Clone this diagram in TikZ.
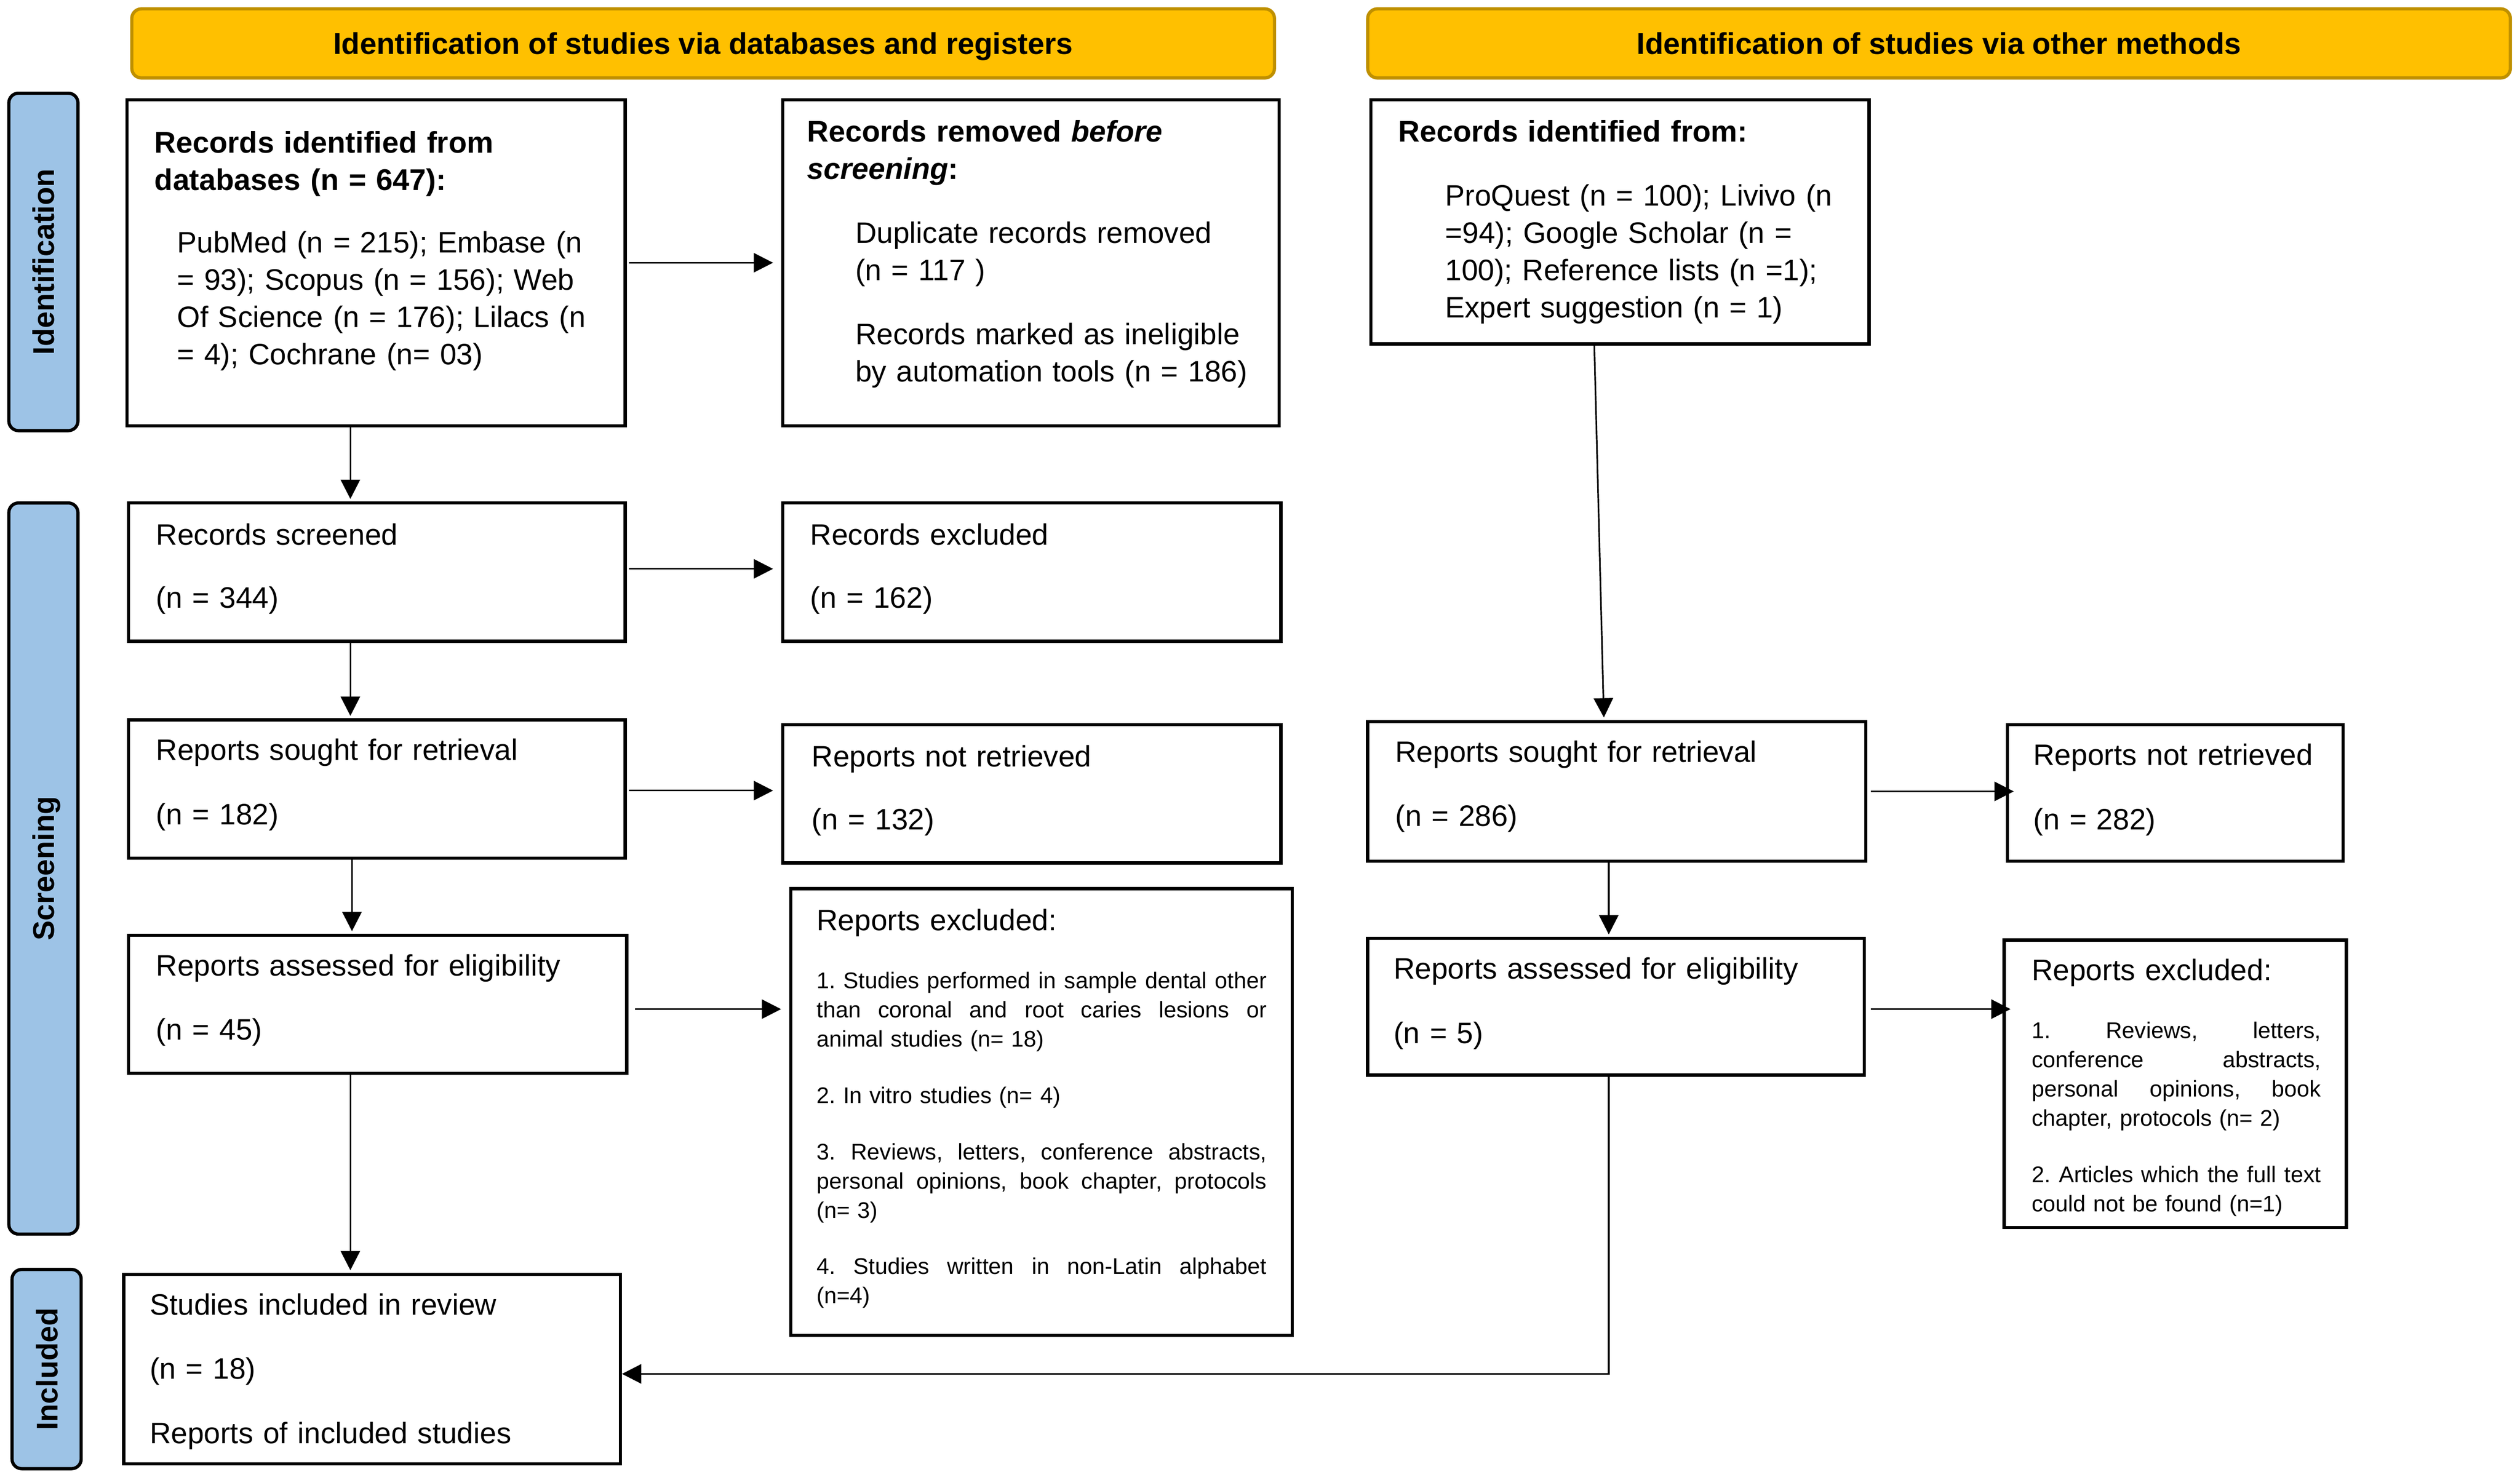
\documentclass[tikz,border=0pt]{standalone}
\usepackage{fontspec}
\setmainfont{Liberation Sans}
\usetikzlibrary{arrows.meta}
\definecolor{hdrfill}{HTML}{FFC000}
\definecolor{hdrline}{HTML}{BF9000}
\definecolor{sidefill}{HTML}{9DC3E6}
\newcommand\jl[2]{\leavevmode\hbox to #1{\spaceskip=0.28em plus 1fil minus 0.1em\relax #2}}
\begin{document}
\frenchspacing
\begin{tikzpicture}[x=1pt,y=-1pt,
  box/.style={draw, line width=2pt, rectangle, inner sep=0pt},
  hdr/.style={draw=hdrline, fill=hdrfill, line width=2pt, rounded corners=6pt, minimum width=711pt, minimum height=43pt, inner sep=0pt, text height=15.6pt, text depth=2pt, font=\fontsize{18.7}{23.2}\selectfont\bfseries},
  side/.style={draw, fill=sidefill, line width=2pt, rounded corners=6pt, rotate=90, minimum height=43pt, inner sep=0pt, text height=15.6pt, text depth=2pt, font=\fontsize{18.6}{23.2}\selectfont\bfseries},
  tx/.style={anchor=north west, inner sep=0pt, align=left, text width=#1, font=\fontsize{18.4}{23.2}\selectfont, execute at begin node={\parindent=0pt\strut}},
  tx/.default=300pt,
  bold/.style={font=\fontsize{18.6}{23.2}\selectfont\bfseries},
  small/.style={font=\fontsize{14.1}{18.2}\selectfont},
  arrbase/.style={line width=1pt, -{Triangle[length=12pt,width=12pt]}},
  harr/.style={arrbase, shorten <=1.5pt, shorten >=5pt},
  varr/.style={arrbase, shorten <=0pt, shorten >=1.5pt}
]
\useasboundingbox (0,0) rectangle (1568,921);

% headers
\node[hdr] (h1) at (437.5,27) {Identification of studies via databases and registers};
\node[hdr] (h2) at (1206.5,27) {Identification of studies via other methods};

% side bars
\node[side, minimum width=210pt] (s1) at (27,163) {Identification};
\node[side, minimum width=455pt] (s2) at (27,540.5) {Screening};
\node[side, minimum width=124pt] (s3) at (29,852) {Included};

% boxes
\node[box, minimum width=310pt, minimum height=203pt] (A) at (234,163.5) {};
\node[box, minimum width=309pt, minimum height=203pt] (B) at (641.5,163.5) {};
\node[box, minimum width=309pt, minimum height=86pt] (C) at (234.5,356) {};
\node[box, minimum width=310pt, minimum height=86pt] (D) at (642,356) {};
\node[box, minimum width=309pt, minimum height=86pt] (E) at (234.5,491) {};
\node[box, minimum width=310pt, minimum height=86pt] (F) at (642,494) {};
\node[box, minimum width=310pt, minimum height=86pt] (G) at (235,625) {};
\node[box, minimum width=312pt, minimum height=278pt] (H) at (648,692) {};
\node[box, minimum width=309pt, minimum height=118pt] (I) at (231.5,852) {};
\node[box, minimum width=310pt, minimum height=152pt] (J) at (1008,138) {};
\node[box, minimum width=310pt, minimum height=87pt] (K) at (1006,492.5) {};
\node[box, minimum width=209pt, minimum height=85pt] (L) at (1353.5,493.5) {};
\node[box, minimum width=309pt, minimum height=85pt] (M) at (1005.5,626.5) {};
\node[box, minimum width=213pt, minimum height=179pt] (N) at (1353.5,674.5) {};

% texts
\node[tx, bold] (At) at (96,78.76) {Records identified from\\databases (n = 647):};
\node[tx] (Ab) at (110,140.76) {PubMed (n = 215); Embase (n\\= 93); Scopus (n = 156); Web\\Of Science (n = 176); Lilacs (n\\= 4); Cochrane (n= 03)};
\node[tx, bold] (Bt) at (502,71.76) {Records removed \textit{before}\\\textit{screening}:};
\node[tx] (Bb) at (532,134.76) {Duplicate records removed\\(n = 117 )\\[16.8pt]Records marked as ineligible\\by automation tools (n = 186)};
\node[tx] (Ct) at (97,322.76) {Records screened\\[15.8pt](n = 344)};
\node[tx] (Dt) at (504,322.76) {Records excluded\\[15.8pt](n = 162)};
\node[tx] (Et) at (97,456.76) {Reports sought for retrieval\\[16.8pt](n = 182)};
\node[tx] (Ft) at (505,460.76) {Reports not retrieved\\[15.8pt](n = 132)};
\node[tx] (Gt) at (97,590.76) {Reports assessed for eligibility\\[16.8pt](n = 45)};
\node[tx] (Ht) at (508,562.76) {Reports excluded:};
\node[tx=282pt, small] (Hb) at (508,602.26) {\jl{280pt}{1. Studies performed in sample dental other}\\
\jl{280pt}{than coronal and root caries lesions or}\\
animal studies (n= 18)\\[16.8pt]
2. In vitro studies (n= 4)\\[16.8pt]
\jl{280pt}{3. Reviews, letters, conference abstracts,}\\
\jl{280pt}{personal opinions, book chapter, protocols}\\
(n= 3)\\[16.8pt]
\jl{280pt}{4. Studies written in non-Latin alphabet}\\
(n=4)};
\node[tx] (It) at (93,801.76) {Studies included in review\\[16.8pt](n = 18)\\[16.8pt]Reports of included studies};
\node[tx, bold] (Jt) at (870,71.76) {Records identified from:};
\node[tx] (Jb) at (899,111.76) {ProQuest (n = 100); Livivo (n\\=94); Google Scholar (n =\\100); Reference lists (n =1);\\Expert suggestion (n = 1)};
\node[tx] (Kt) at (868,457.76) {Reports sought for retrieval\\[16.8pt](n = 286)};
\node[tx] (Lt) at (1265,459.76) {Reports not retrieved\\[16.8pt](n = 282)};
\node[tx] (Mt) at (867,592.76) {Reports assessed for eligibility\\[16.8pt](n = 5)};
\node[tx] (Nt) at (1264,593.76) {Reports excluded:};
\node[tx=182pt, small] (Nb) at (1264,633.26) {\jl{180pt}{1. Reviews, letters,}\\
\jl{180pt}{conference abstracts,}\\
\jl{180pt}{personal opinions, book}\\
chapter, protocols (n= 2)\\[16.8pt]
\jl{180pt}{2. Articles which the full text}\\
could not be found (n=1)};

% connectors
\coordinate (x1) at (218,0);
\coordinate (x2) at (219,0);
\draw[harr] (A.east) -- (A.east -| B.west);
\draw[varr] (A.south -| x1) -- (C.north -| x1);
\draw[harr] ([yshift=2pt]C.east) -- ([yshift=2pt]C.east -| D.west);
\draw[varr] (C.south -| x1) -- (E.north -| x1);
\draw[harr] ([yshift=-1pt]E.east) -- ([yshift=-1pt]E.east -| F.west);
\draw[varr] (E.south -| x2) -- (G.north -| x2);
\draw[harr, shorten <=4pt] ([yshift=-3pt]G.east) -- ([yshift=-3pt]G.east -| H.west);
\draw[varr] (G.south -| x1) -- (I.north -| x1);
\draw[varr] ([xshift=-16pt]J.south) -- ([xshift=-8pt]K.north);
\draw[harr, shorten <=2pt, shorten >=-5pt] (K.east) -- (K.east -| L.west);
\draw[varr] ([xshift=-5pt]K.south) -- ([xshift=-5pt]K.south |- M.north);
\draw[harr, shorten <=3pt, shorten >=-5pt] ([yshift=-1.5pt]M.east) -- ([yshift=-1.5pt]M.east -| N.west);
\draw[varr, shorten >=0pt] ([xshift=-4.5pt]M.south) |- ([yshift=-3pt]I.east);
\end{tikzpicture}
\end{document}
